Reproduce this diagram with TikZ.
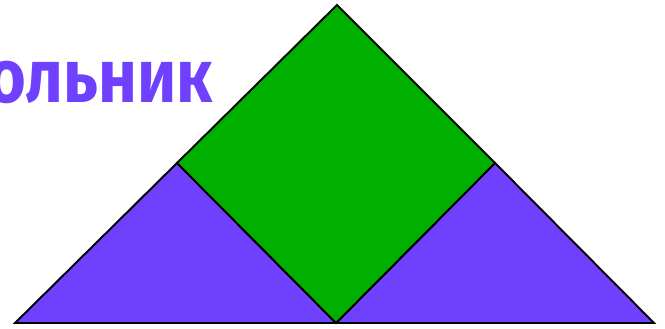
\documentclass[tikz,border=0pt]{standalone}
\usepackage{fontspec}
\newfontfamily\titlefont{Fira Sans}
\definecolor{sqgreen}{RGB}{0,176,0}
\definecolor{trpurple}{RGB}{112,64,255}
\begin{document}
\begin{tikzpicture}[x=0.02cm,y=-0.02cm,line join=miter]
\useasboundingbox (0,0) rectangle (665,328);
\clip (0,0) rectangle (665,328);
\coordinate (top) at (337,5);
\coordinate (sqleft) at (177,163);
\coordinate (sqright) at (495,163);
\coordinate (bottom) at (336,323);
\coordinate (baseleft) at (15,323);
\coordinate (baseright) at (654,323);
% left and right triangles
\draw[fill=trpurple,line width=1.1pt] (baseleft) -- (sqleft) -- (bottom) -- cycle;
\draw[fill=trpurple,line width=1.1pt] (bottom) -- (sqright) -- (baseright) -- cycle;
% square
\draw[fill=sqgreen,line width=1.1pt] (top) -- (sqright) -- (bottom) -- (sqleft) -- cycle;
\node[anchor=base east,inner sep=0pt,text=trpurple,xscale=0.88,transform shape,font=\titlefont\bfseries\fontsize{43}{43}\selectfont] (title) at (213,102) {ольник};
\end{tikzpicture}
\end{document}
